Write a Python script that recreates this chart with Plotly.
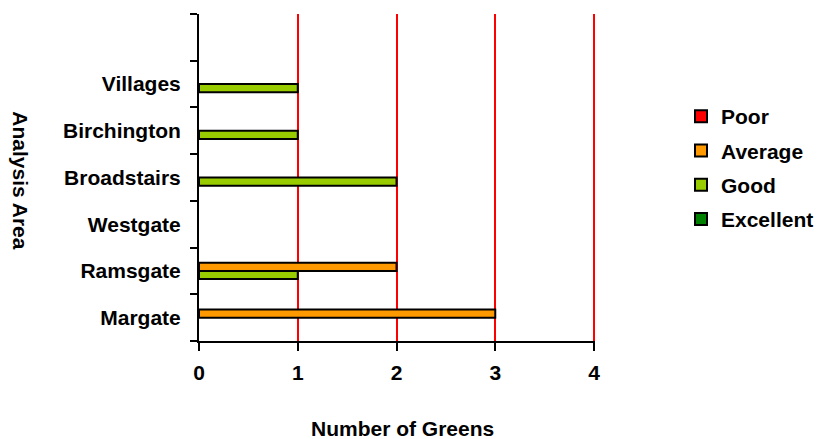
import plotly.graph_objects as go

# Number of greens per analysis area, split by quality rating
areas = ["Margate", "Ramsgate", "Westgate", "Broadstairs", "Birchington", "Villages", " "]
poor = [0, 0, 0, 0, 0, 0, 0]
average = [3, 2, 0, 0, 0, 0, 0]
good = [0, 1, 0, 2, 1, 1, 0]
excellent = [0, 0, 0, 0, 0, 0, 0]

x_ticks = [0, 1, 2, 3, 4]

FONT = "Arial, Liberation Sans, sans-serif"
FS = 21

# bottom-to-top order inside each group; rank sets the legend order
series = [
    ("Excellent", excellent, "#008000", 4),
    ("Good", good, "#99CC00", 3),
    ("Average", average, "#FF9900", 2),
    ("Poor", poor, "#FF0000", 1),
]

fig = go.Figure()
for name, vals, colour, rank in series:
    fig.add_trace(go.Bar(
        y=areas,
        x=[v if v else None for v in vals],
        name=name,
        orientation="h",
        legendgroup=name,
        legendrank=rank,
        marker=dict(color=colour, line=dict(color="black", width=2)),
    ))

# the plot edge swallows the last gridline, so draw it explicitly
fig.add_shape(type="line", xref="x", yref="paper",
              x0=x_ticks[-1], x1=x_ticks[-1], y0=0, y1=1,
              line=dict(color="#FF0000", width=2), layer="below")

fig.update_layout(
    width=817,
    height=439,
    margin=dict(l=199, r=222, t=14, b=98, autoexpand=False),
    plot_bgcolor="white",
    paper_bgcolor="white",
    barmode="group",
    bargap=0.3,
    bargroupgap=0,
    font=dict(family=FONT, size=FS, color="black", weight="bold"),
    legend=dict(
        xref="container", yref="container",
        x=681 / 817, y=1 - 96 / 439, xanchor="left", yanchor="top",
        traceorder="grouped",
        tracegroupgap=4,
        font=dict(family=FONT, size=FS, color="black", weight="bold"),
        bgcolor="rgba(0,0,0,0)",
    ),
    xaxis=dict(
        range=[0, 4.01],
        tickvals=x_ticks,
        ticktext=[str(t) for t in x_ticks],
        showgrid=True, gridcolor="#FF0000", gridwidth=2,
        zeroline=False,
        showline=True, linecolor="black", linewidth=2,
        ticks="outside", ticklen=8, tickwidth=2, tickcolor="black",
        ticklabelstandoff=4,
    ),
    yaxis=dict(
        type="category",
        categoryorder="array", categoryarray=areas,
        range=[-0.5, len(areas) - 0.5],
        tickson="boundaries",
        showgrid=False, zeroline=False,
        showline=True, linecolor="black", linewidth=2,
        ticks="outside", ticklen=7, tickwidth=2, tickcolor="black",
        ticklabelstandoff=12,
    ),
    annotations=[
        dict(text="Number of Greens", xref="paper", yref="paper",
             x=0.515, y=-0.268, showarrow=False,
             xanchor="center", yanchor="middle",
             font=dict(family=FONT, size=FS, color="black", weight="bold")),
        dict(text="Analysis Area", xref="paper", yref="paper",
             x=-0.45, y=0.492, showarrow=False, textangle=90,
             xanchor="center", yanchor="middle",
             font=dict(family=FONT, size=FS, color="black", weight="bold")),
    ],
)

fig.write_html("out.html")
